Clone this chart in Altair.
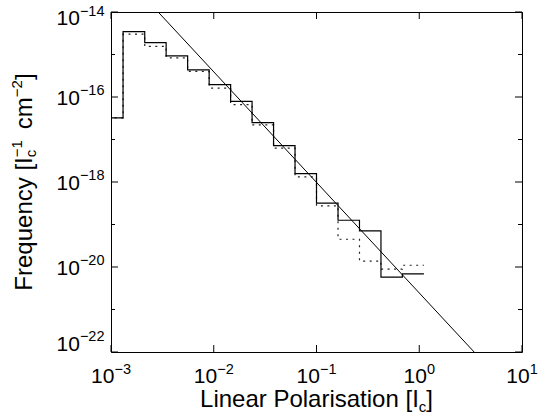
import altair as alt
import pandas as pd

# ---------------- data ----------------
bin_edges = [0.00081, 0.00131, 0.00213, 0.00344, 0.00557, 0.00902, 0.0146,
             0.0236, 0.0382, 0.0618, 0.1, 0.162, 0.262, 0.424, 0.685, 1.11]
solid_freq = [3.24e-17, 3.47e-15, 1.91e-15, 9.3e-16, 4.37e-16, 1.95e-16, 7.9e-17,
              2.5e-17, 7.2e-18, 1.58e-18, 3.2e-19, 1.26e-19, 7.1e-20, 5.8e-21, 6.9e-21]
dotted_freq = [3.24e-17, 3.0e-15, 1.55e-15, 8.3e-16, 4.0e-16, 1.62e-16, 6.6e-17,
               2.2e-17, 6.3e-18, 1.32e-18, 2.75e-19, 4.5e-20, 1.38e-20, 8.9e-21, 1.1e-20]
fit_x = [0.002877, 3.42]
fit_y = [1e-14, 1e-22]

x_tick_values = [1e-3, 1e-2, 1e-1, 1e0, 1e1]
x_tick_exp = ["\u22123", "\u22122", "\u22121", "0", "1"]
y_major_values = [1e-14, 1e-16, 1e-18, 1e-20, 1e-22]
y_major_exp = ["\u221214", "\u221216", "\u221218", "\u221220", "\u221222"]
y_minor_values = [1e-15, 1e-17, 1e-19, 1e-21]

x_title_parts = ["Linear Polarisation [I", "c", "]"]
y_title_parts = ["Frequency [I", "c", "\u22121", "cm", "\u22122", "]"]

# ---------------- layout / style ----------------
W, H = 411, 340
FONT = "Liberation Sans"
TICK_FS, EXP_FS = 21, 14.5
TITLE_FS, SUB_FS = 24, 15

ARIAL = {' ': 278, '[': 278, ']': 278, 'I': 278, 'F': 611, 'r': 333, 'e': 556,
         'q': 556, 'u': 556, 'n': 556, 'c': 500, 'y': 500, 'm': 833, 'L': 556,
         'i': 222, 'a': 556, 'P': 667, 'o': 556, 'l': 222, 's': 500, 't': 278,
         '\u2212': 584}


def tw(s, size):
    return sum(ARIAL.get(ch, 556) for ch in s) * size / 1000.0


xs = alt.Scale(type="log", domain=[1e-3, 1e1])
ys = alt.Scale(type="log", domain=[1e-22, 1e-14])


def X(f):
    return alt.X(f, type="quantitative", scale=xs, axis=None)


def Y(f):
    return alt.Y(f, type="quantitative", scale=ys, axis=None)


def step_df(freq):
    return pd.DataFrame({"x": bin_edges, "y": list(freq) + [freq[-1]]})


solid = alt.Chart(step_df(solid_freq)).mark_line(
    interpolate="step-after", color="black", strokeWidth=1.2, clip=True
).encode(x=X("x"), y=Y("y"))

dotted = alt.Chart(step_df(dotted_freq)).mark_line(
    interpolate="step-after", color="#222222", strokeWidth=1.2,
    strokeDash=[2, 4.5], clip=True
).encode(x=X("x"), y=Y("y"))

fit = alt.Chart(pd.DataFrame({"x": fit_x, "y": fit_y})).mark_line(
    color="black", strokeWidth=1, clip=True
).encode(x=X("x"), y=Y("y"))

xt = pd.DataFrame({"v": x_tick_values})
xtick_b = alt.Chart(xt).mark_rule(color="black", strokeWidth=1).encode(
    x=X("v"), y=alt.value(H), y2=alt.value(H - 7))
xtick_t = alt.Chart(xt).mark_rule(color="black", strokeWidth=1).encode(
    x=X("v"), y=alt.value(0), y2=alt.value(7))

ymaj = pd.DataFrame({"v": y_major_values})
ymin = pd.DataFrame({"v": y_minor_values})
ytick_layers = []
for df, ln in ((ymaj, 7), (ymin, 4)):
    ytick_layers.append(alt.Chart(df).mark_rule(color="black", strokeWidth=1).encode(
        y=Y("v"), x=alt.value(0), x2=alt.value(ln)))
    ytick_layers.append(alt.Chart(df).mark_rule(color="black", strokeWidth=1).encode(
        y=Y("v"), x=alt.value(W), x2=alt.value(W - ln)))

# tick labels: "10" with a raised exponent
w10 = tw("10", TICK_FS)
XBASE = 371
label_layers = []
for v, e in zip(x_tick_values, x_tick_exp):
    off = (w10 - tw(e, EXP_FS)) / 2
    d = pd.DataFrame({"v": [v], "e": [e]})
    label_layers.append(alt.Chart(d).mark_text(
        text="10", align="right", baseline="alphabetic", font=FONT, fontSize=TICK_FS,
        color="black", dx=off
    ).encode(x=X("v"), y=alt.value(XBASE)))
    label_layers.append(alt.Chart(d).mark_text(
        align="left", baseline="alphabetic", font=FONT, fontSize=EXP_FS,
        color="black", dx=off
    ).encode(x=X("v"), y=alt.value(XBASE - 9), text="e:N"))

wexp = tw("\u221216", EXP_FS)
for v, e in zip(y_major_values, y_major_exp):
    dy = 13.4 if e == "\u221214" else (-1.3 if e == "\u221222" else 7.7)
    d = pd.DataFrame({"v": [v], "e": [e]})
    label_layers.append(alt.Chart(d).mark_text(
        text="10", align="right", baseline="alphabetic", font=FONT, fontSize=TICK_FS,
        color="black", dy=dy
    ).encode(y=Y("v"), x=alt.value(-6.5 - wexp)))
    label_layers.append(alt.Chart(d).mark_text(
        align="right", baseline="alphabetic", font=FONT, fontSize=EXP_FS,
        color="black", dy=dy - 9.5
    ).encode(y=Y("v"), x=alt.value(-6.5), text="e:N"))

# ---------------- axis titles built from pieces (sub/superscripts) ----------------
one = pd.DataFrame({"a": [1]})


def piece(text, x, y, size, angle=None):
    kw = dict(text=text, align="left", baseline="alphabetic", font=FONT,
              fontSize=size, color="black")
    if angle is not None:
        kw["angle"] = angle
    return alt.Chart(one).mark_text(**kw).encode(x=alt.value(x), y=alt.value(y))


XT_BASE = 395
w1 = tw(x_title_parts[0], TITLE_FS)
wc = tw(x_title_parts[1], SUB_FS)
wb = tw(x_title_parts[2], TITLE_FS)
x0 = W / 2 - (w1 + wc + wb) / 2
title_layers = [
    piece(x_title_parts[0], x0, XT_BASE, TITLE_FS),
    piece(x_title_parts[1], x0 + w1, XT_BASE + 4.5, SUB_FS),
    piece(x_title_parts[2], x0 + w1 + wc, XT_BASE, TITLE_FS),
]

YB = -79.5
GAP = 11
a1 = tw(y_title_parts[0], TITLE_FS)
astack = max(tw(y_title_parts[1], SUB_FS), tw(y_title_parts[2], SUB_FS))
a3 = tw(y_title_parts[3], TITLE_FS)
a4 = tw(y_title_parts[4], SUB_FS)
a5 = tw(y_title_parts[5], TITLE_FS)
tot = a1 + astack + GAP + a3 + a4 + a5
s0 = H / 2 + tot / 2
title_layers += [
    piece(y_title_parts[0], YB, s0, TITLE_FS, 270),
    piece(y_title_parts[1], YB + 4.5, s0 - a1, SUB_FS, 270),
    piece(y_title_parts[2], YB - 10, s0 - a1, SUB_FS, 270),
    piece(y_title_parts[3], YB, s0 - a1 - astack - GAP, TITLE_FS, 270),
    piece(y_title_parts[4], YB - 10, s0 - a1 - astack - GAP - a3, SUB_FS, 270),
    piece(y_title_parts[5], YB, s0 - a1 - astack - GAP - a3 - a4, TITLE_FS, 270),
]

chart = alt.layer(
    dotted, solid, fit, xtick_b, xtick_t, *ytick_layers, *label_layers, *title_layers
).properties(
    width=W, height=H,
    autosize=alt.AutoSizeParams(type="none"),
    padding={"left": 111, "top": 12, "right": 549 - 111 - W, "bottom": 418 - 12 - H},
    background="white",
).configure_view(stroke="black", strokeWidth=1)

chart.save("out.html", embed_options={"renderer": "svg", "actions": False})
